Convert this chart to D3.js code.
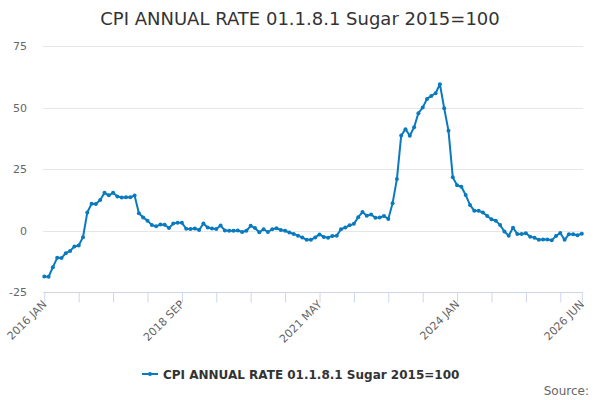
<!DOCTYPE html>
<html>
<head>
<meta charset="utf-8">
<script src="https://cdn.jsdelivr.net/npm/d3@7"></script>
<style>
  body { margin: 0; background: #fff; }
  svg { font-family: "DejaVu Sans", sans-serif; }
</style>
</head>
<body>
<svg id="drawing_region"></svg>
<script>
// monthly values, 2016 JAN .. 2026 JUN
const startYear = 2016;
const values = [
  -18.7, -18.8, -14.9, -11.1, -11.2, -9.2, -8.3, -6.5, -6.1, -2.7, 7.3, 10.9,
  10.8, 12.4, 15.3, 14.3, 15.3, 13.8, 13.4, 13.5, 13.5, 14.2, 7.0, 5.3,
  4.0, 2.2, 1.7, 2.4, 2.3, 1.0, 2.8, 3.2, 3.1, 0.7, 0.6, 0.8,
  0.2, 2.8, 1.2, 0.8, 0.6, 2.0, 0.0, -0.1, -0.1, 0.0, -0.6, -0.1,
  1.9, 1.0, -0.7, 0.5, -0.6, 0.5, 0.9, 0.2, -0.1, -0.8, -1.4, -2.1,
  -2.8, -3.8, -3.8, -2.8, -1.6, -2.6, -2.9, -2.2, -2.1, 0.5, 1.2, 2.1,
  2.7, 5.4, 7.5, 6.0, 6.5, 5.2, 5.3, 5.9, 4.7, 11.1, 20.9, 38.6,
  41.2, 38.5, 42.0, 47.7, 50.0, 53.5, 54.7, 55.8, 59.5, 49.7, 40.5, 21.6,
  18.4, 17.8, 14.4, 10.4, 8.0, 8.0, 7.3, 5.9, 4.6, 4.0, 2.2, -0.4,
  -2.1, 1.1, -1.4, -1.4, -1.1, -2.5, -2.9, -3.8, -3.7, -3.7, -4.0, -2.2,
  -1.0, -3.8, -1.5, -1.5, -1.9, -1.3
];
const monthNames = ["JAN","FEB","MAR","APR","MAY","JUN","JUL","AUG","SEP","OCT","NOV","DEC"];
const tickIndex = [0, 8, 16, 24, 32, 40, 48, 56, 64, 72, 80, 88, 96, 104, 112, 120, 125];
const labelIndex = [0, 32, 64, 96, 125];
const yTicks = [-25, 0, 25, 50, 75];
const seriesName = "CPI ANNUAL RATE 01.1.8.1 Sugar 2015=100";

const width = 600, height = 400;
const color = "#0a7abf";

const svg = d3.select("#drawing_region")
    .attr("width", width)
    .attr("height", height);

const x = d3.scaleLinear().domain([0, values.length - 1]).range([44.3, 581.8]);
const y = d3.scaleLinear().domain([-25, 75]).range([292, 46]);

const label = i => (startYear + Math.floor(i / 12)) + " " + monthNames[i % 12];

// title
svg.append("text")
    .attr("x", 300).attr("y", 25)
    .attr("text-anchor", "middle")
    .attr("fill", "#333")
    .style("font-size", "18px")
    .text("CPI ANNUAL RATE 01.1.8.1 Sugar 2015=100");

// grid + y labels
svg.append("g").selectAll("line")
    .data(yTicks.filter(d => d !== -25))
    .enter().append("line")
    .attr("x1", 43).attr("x2", 583)
    .attr("y1", d => Math.round(y(d)) + 0.5).attr("y2", d => Math.round(y(d)) + 0.5)
    .attr("stroke", "#e6e6e6");

svg.append("g").selectAll("text")
    .data(yTicks)
    .enter().append("text")
    .attr("x", 27)
    .attr("y", d => y(d) + 4)
    .attr("text-anchor", "end")
    .attr("fill", "#666")
    .style("font-size", "11px")
    .text(d => d);

// x axis
const xAxis = d3.axisBottom(x)
    .tickValues(tickIndex)
    .tickSize(10)
    .tickFormat("");
const gx = svg.append("g")
    .attr("transform", "translate(0,292.5)")
    .call(xAxis);
gx.select(".domain").attr("stroke", "#ccd6eb").attr("d", "M43,0H583");
gx.selectAll(".tick line").attr("stroke", "#ccd6eb");

svg.append("g").selectAll("text")
    .data(labelIndex)
    .enter().append("text")
    .attr("transform", d => `translate(${x(d) + 3},${305}) rotate(-45)`)
    .attr("text-anchor", "end")
    .attr("fill", "#666")
    .style("font-size", "11px")
    .text(d => label(d));

// series
const line = d3.line()
    .x((d, i) => x(i))
    .y(d => y(d));

svg.append("path")
    .datum(values)
    .attr("d", line)
    .attr("fill", "none")
    .attr("stroke", color)
    .attr("stroke-width", 2)
    .attr("stroke-linejoin", "round");

svg.append("g").selectAll("circle")
    .data(values)
    .enter().append("circle")
    .attr("cx", (d, i) => x(i))
    .attr("cy", d => y(d))
    .attr("r", 2)
    .attr("fill", color);

// legend
const lg = svg.append("g").attr("transform", "translate(142,374)");
lg.append("line")
    .attr("x1", 0).attr("x2", 16)
    .attr("stroke", color).attr("stroke-width", 2);
lg.append("circle").attr("cx", 8).attr("r", 2).attr("fill", color);
lg.append("text")
    .attr("x", 21).attr("y", 4.5)
    .attr("fill", "#333")
    .style("font-size", "12px")
    .style("font-weight", "bold")
    .text(seriesName);

svg.append("text")
    .attr("x", 589).attr("y", 395)
    .attr("text-anchor", "end")
    .attr("fill", "#666")
    .style("font-size", "12px")
    .text("Source:");
</script>
</body>
</html>
